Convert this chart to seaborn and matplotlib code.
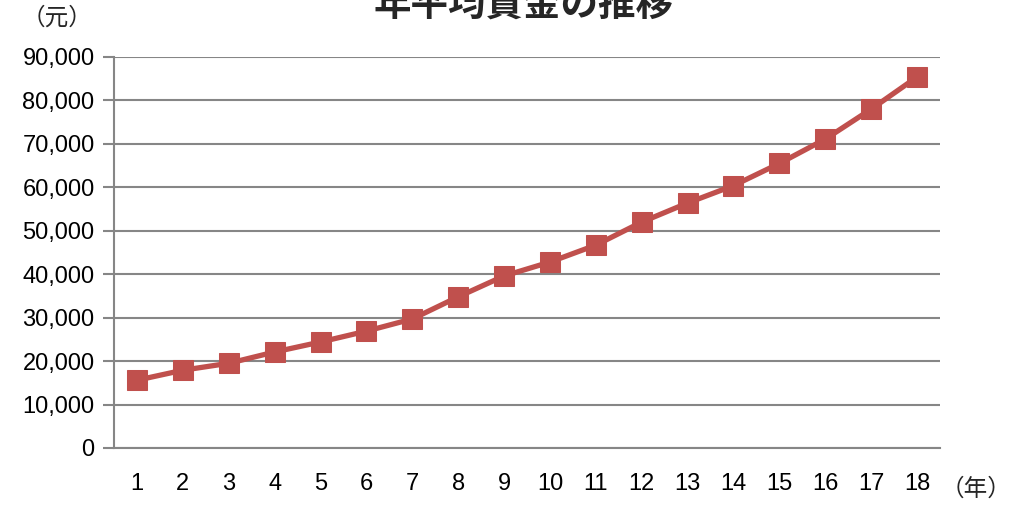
import matplotlib
matplotlib.use("Agg")
import matplotlib.pyplot as plt
import seaborn as sns
import pandas as pd
import numpy as np
from matplotlib.ticker import FuncFormatter, FixedLocator

sns.set_style("white")
plt.rcParams['font.family'] = ['Liberation Sans', 'Noto Sans CJK JP', 'DejaVu Sans']

years = list(range(1, 19))
wages = [15600, 17900, 19500, 22100, 24400, 26900, 29700, 34800, 39600,
         42800, 46700, 52000, 56400, 60400, 65500, 71100, 78000, 85400]
title = '年平均賃金の推移'
y_unit = '（元）'
x_unit = '（年）'

df = pd.DataFrame({'year': years, 'wage': wages})

fig = plt.figure(figsize=(10.11, 5.05), dpi=100)
ax = fig.add_axes([114 / 1011, 1 - 448 / 505, (940 - 114) / 1011, (448 - 57) / 505])

sns.lineplot(data=df, x='year', y='wage', ax=ax, color='#C0504D', linewidth=3.8,
             marker='s', markersize=14, markeredgecolor='#C0504D')

ax.set_xlim(0.5, 18.5)
ax.set_ylim(0, 90000)
ax.set_yticks(range(0, 90001, 10000))
ax.yaxis.set_major_formatter(FuncFormatter(lambda v, p: f'{int(v):,}'))
ax.set_xticks(years)
ax.xaxis.set_minor_locator(FixedLocator(np.arange(0.5, 19, 1)))
ax.tick_params(axis='x', which='major', length=0, labelsize=17, pad=18, colors='black')
ax.tick_params(axis='x', which='minor', length=8, width=1.5, color='#868686', direction='out')
ax.tick_params(axis='y', which='major', length=8, width=1.5, color='#868686', labelsize=17, pad=6,
               direction='out', left=True, labelcolor='black')
ax.grid(axis='y', color='#868686', linewidth=1.5)
ax.set_axisbelow(True)
for s in ['top', 'right']:
    ax.spines[s].set_visible(False)
for s in ['left', 'bottom']:
    ax.spines[s].set_color('#868686')
    ax.spines[s].set_linewidth(1.5)
ax.set_xlabel('')
ax.set_ylabel('')

fig.text(524 / 1011, 1 - 16 / 505, title, ha='center', va='baseline', fontsize=27, fontweight='bold')
fig.text(57 / 1011, 1 - 18 / 505, y_unit, ha='center', va='center', fontsize=17)
fig.text(1011 / 1011, 1 - 490 / 505, x_unit, ha='right', va='center', fontsize=17)

fig.savefig('out.png', dpi=100)
